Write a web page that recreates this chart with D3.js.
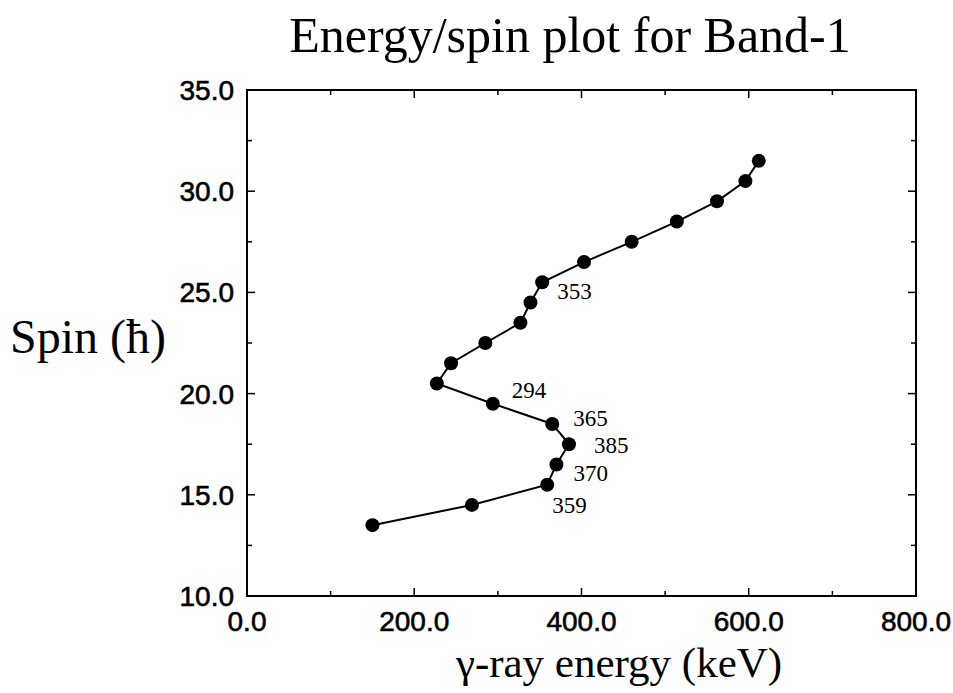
<!DOCTYPE html>
<html>
<head>
<meta charset="utf-8">
<script src="https://cdn.jsdelivr.net/npm/d3@7.9.0/dist/d3.min.js"></script>
<style>
  body { margin: 0; background: #fff; }
  svg { display: block; }
  .tick-label { font-family: 'Liberation Sans', Arial, sans-serif; font-size: 28px; fill: #000; stroke: #000; stroke-width: 0.6px; }
  .serif { font-family: 'Liberation Serif', 'Times New Roman', serif; fill: #000; }
</style>
</head>
<body>
<svg id="chart" width="953" height="693"></svg>
<script>
// gamma-ray energies (keV) and spins (hbar) for Band-1
const energies = [150, 269, 359, 370, 385, 365, 294, 227, 244, 285, 327, 339, 353, 403, 460, 514, 562, 596, 612];
const spins = [13.5, 14.5, 15.5, 16.5, 17.5, 18.5, 19.5, 20.5, 21.5, 22.5, 23.5, 24.5, 25.5, 26.5, 27.5, 28.5, 29.5, 30.5, 31.5];

// labelled transitions (index into the arrays above)
const labelIdx = [12, 6, 5, 4, 3, 2];
const labelText = ['353', '294', '365', '385', '370', '359'];
const labelOffset = [[15, 17], [19, -6], [21, 2], [25, 9], [17, 17], [5, 28]];

const xTicks = [0, 200, 400, 600, 800];
const yTicks = [10, 15, 20, 25, 30, 35];

const svg = d3.select('#chart');
const mLeft = 247, mRight = 916, mTop = 90, mBottom = 596;

const x = d3.scaleLinear().domain([0, 800]).range([mLeft, mRight]);
const y = d3.scaleLinear().domain([10, 35]).range([mBottom, mTop]);

const fmt = d3.format('.1f');

// frame
svg.append('rect')
  .attr('x', mLeft).attr('y', mTop)
  .attr('width', mRight - mLeft).attr('height', mBottom - mTop)
  .attr('fill', 'none').attr('stroke', '#000').attr('stroke-width', 2);

// inward ticks on all four sides
const gx = svg.append('g').attr('stroke', '#000').attr('stroke-width', 1.5);
d3.range(0, 801, 100).forEach((v) => {
  const len = v % 200 === 0 ? 8 : 5;
  gx.append('line').attr('x1', x(v)).attr('x2', x(v)).attr('y1', mBottom).attr('y2', mBottom - len);
  gx.append('line').attr('x1', x(v)).attr('x2', x(v)).attr('y1', mTop).attr('y2', mTop + len);
});
d3.range(10, 35.01, 2.5).forEach((v) => {
  const len = v % 5 === 0 ? 8 : 5;
  gx.append('line').attr('y1', y(v)).attr('y2', y(v)).attr('x1', mLeft).attr('x2', mLeft + len);
  gx.append('line').attr('y1', y(v)).attr('y2', y(v)).attr('x1', mRight).attr('x2', mRight - len);
});

// tick labels
svg.selectAll('.xl').data(xTicks).join('text')
  .attr('class', 'tick-label')
  .attr('x', (d) => x(d)).attr('y', 631)
  .attr('text-anchor', 'middle')
  .text((d) => fmt(d));

svg.selectAll('.yl').data(yTicks).join('text')
  .attr('class', 'tick-label')
  .attr('x', 234).attr('y', (d) => y(d) + 10)
  .attr('text-anchor', 'end')
  .text((d) => fmt(d));

// line + points
const pts = energies.map((e, i) => [e, spins[i]]);
svg.append('path')
  .datum(pts)
  .attr('fill', 'none').attr('stroke', '#000').attr('stroke-width', 2)
  .attr('d', d3.line().x((d) => x(d[0])).y((d) => y(d[1])));

svg.selectAll('circle').data(pts).join('circle')
  .attr('cx', (d) => x(d[0])).attr('cy', (d) => y(d[1]))
  .attr('r', 7).attr('fill', '#000');

// transition labels
labelIdx.forEach((k, i) => {
  svg.append('text')
    .attr('class', 'serif')
    .attr('font-size', 23)
    .attr('x', x(energies[k]) + labelOffset[i][0])
    .attr('y', y(spins[k]) + labelOffset[i][1])
    .text(labelText[i]);
});

// titles
svg.append('text').attr('class', 'serif')
  .attr('x', 570).attr('y', 52).attr('font-size', 50)
  .attr('text-anchor', 'middle')
  .text('Energy/spin plot for Band-1');

svg.append('text').attr('class', 'serif')
  .attr('x', 10).attr('y', 353).attr('font-size', 48)
  .text('Spin (ħ)');

svg.append('text').attr('class', 'serif')
  .attr('x', 619).attr('y', 677).attr('font-size', 43)
  .attr('text-anchor', 'middle')
  .text('γ-ray energy (keV)');
</script>
</body>
</html>
